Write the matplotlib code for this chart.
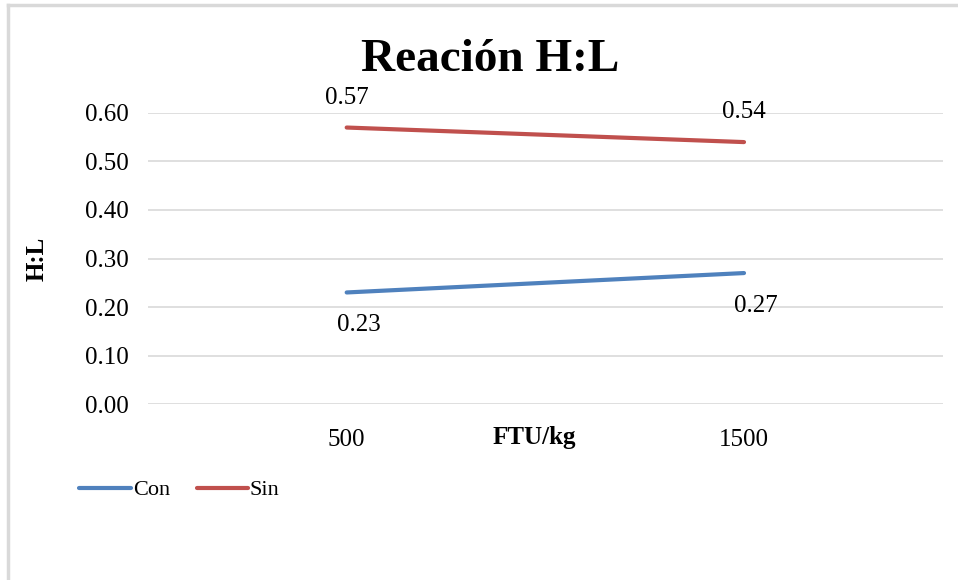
import matplotlib.pyplot as plt
from matplotlib.lines import Line2D

categories = ['500', '1500']
con = [0.23, 0.27]
sin = [0.57, 0.54]
yticks = [0.0, 0.1, 0.2, 0.3, 0.4, 0.5, 0.6]

plt.rcParams['font.family'] = ['Liberation Serif', 'DejaVu Serif']

fig = plt.figure(figsize=(9.58, 5.80), dpi=100)
ax = fig.add_axes([0.1545, 0.3034, 0.8295, 0.5018])

x = list(range(len(categories)))
ax.plot(x, con, color='#4F81BD', lw=3, solid_capstyle='round', label='Con')
ax.plot(x, sin, color='#C0504D', lw=3, solid_capstyle='round', label='Sin')

for xi, v in zip(x, sin):
    ax.annotate(f'{v:.2f}', (xi, v), xytext=(0, 30), textcoords='offset pixels',
                ha='center', va='center', fontsize=18)
for xi, v in zip(x, con):
    ax.annotate(f'{v:.2f}', (xi, v), xytext=(12, -33), textcoords='offset pixels',
                ha='center', va='center', fontsize=18)

ax.set_xlim(-0.5, 1.5)
ax.set_ylim(0, 0.6)
ax.set_yticks(yticks)
ax.set_yticklabels([f'{t:.2f}' for t in yticks], fontsize=18)
ax.set_xticks(x)
ax.set_xticklabels(categories, fontsize=18)
ax.tick_params(axis='y', length=0, pad=14)
ax.tick_params(axis='x', length=0, pad=18)
ax.grid(axis='y', color='#D9D9D9', lw=1.2)
ax.set_axisbelow(True)
for s in ax.spines.values():
    s.set_visible(False)

ax.set_ylabel('H:L', fontsize=18, fontweight='bold', labelpad=26)
fig.text(0.558, 0.245, 'FTU/kg', ha='center', va='center', fontsize=18, fontweight='bold')
fig.text(0.512, 0.897, 'Reación H:L', ha='center', va='center', fontsize=34, fontweight='bold')

ax.legend(loc='center left', bbox_to_anchor=(0.062, 0.155), bbox_transform=fig.transFigure,
          ncol=2, frameon=False, fontsize=16, handlelength=2.3, handletextpad=0.1,
          columnspacing=1.2)

# chart border (top and left visible)
fig.add_artist(Line2D([8 / 958, 1], [1 - 5 / 580, 1 - 5 / 580], color='#D9D9D9', lw=2.5,
                      transform=fig.transFigure))
fig.add_artist(Line2D([8 / 958, 8 / 958], [0, 1 - 5 / 580], color='#D9D9D9', lw=2.5,
                      transform=fig.transFigure))

fig.savefig('out.png', dpi=100)
